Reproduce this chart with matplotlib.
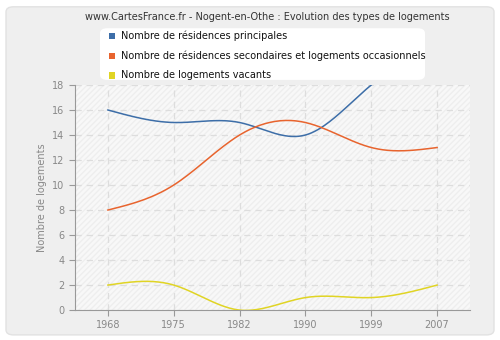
import matplotlib.pyplot as plt
import numpy as np
from matplotlib.patches import FancyBboxPatch

years = ["1968", "1975", "1982", "1990", "1999", "2007"]
principales = [16, 15, 15, 14, 18, 21]
secondaires = [8, 10, 14, 15, 13, 13]
vacants = [2, 2, 0, 1, 1, 2]

labels = [
    "Nombre de résidences principales",
    "Nombre de résidences secondaires et logements occasionnels",
    "Nombre de logements vacants",
]
colors = ["#3d6ea8", "#e8642e", "#e0d424"]


def natural_spline(y, n=200):
    # smooth curve through the points (natural cubic spline on index)
    y = np.asarray(y, dtype=float)
    k = len(y)
    A = np.zeros((k, k))
    b = np.zeros(k)
    A[0, 0] = A[-1, -1] = 1
    for i in range(1, k - 1):
        A[i, i - 1], A[i, i], A[i, i + 1] = 1, 4, 1
        b[i] = 6 * (y[i + 1] - 2 * y[i] + y[i - 1])
    m = np.linalg.solve(A, b)
    xs = np.linspace(0, k - 1, n)
    idx = np.minimum(xs.astype(int), k - 2)
    t = xs - idx
    ys = ((1 - t) * y[idx] + t * y[idx + 1]
          + ((1 - t) ** 3 - (1 - t)) * m[idx] / 6
          + (t ** 3 - t) * m[idx + 1] / 6)
    return xs, ys


fig = plt.figure(figsize=(5, 3.4), dpi=100)
fig.patch.set_facecolor("white")
bg = FancyBboxPatch((0.012, 0.015), 0.976, 0.965, boxstyle="round,pad=0,rounding_size=0.015",
                    transform=fig.transFigure, facecolor="#efefef", edgecolor="#e2e2e2", lw=1,
                    zorder=-10)
fig.patches.append(bg)

ax = fig.add_axes([0.15, 0.088, 0.79, 0.662])
ax.set_facecolor("#f8f8f8")
ax.add_patch(plt.Rectangle((0, 0), 1, 1, transform=ax.transAxes, facecolor="none",
                           hatch="//////", edgecolor="#eeeeee", lw=0, zorder=0))

x = np.arange(len(years))
for vals, c in zip([principales, secondaires, vacants], colors):
    xs, ys = natural_spline(vals)
    ax.plot(xs, ys, color=c, lw=1.1, zorder=3)

ax.set_xlim(-0.5, 5.5)
ax.set_ylim(0, 18)
ax.set_yticks(range(0, 19, 2))
ax.set_xticks(x, years)
ax.grid(True, color="#dddddd", linestyle=(0, (5, 4)), lw=0.9)
ax.set_axisbelow(True)
for s in ["top", "right"]:
    ax.spines[s].set_visible(False)
for s in ["left", "bottom"]:
    ax.spines[s].set_color("#999999")
ax.tick_params(colors="#999999", labelsize=7, length=4, labelcolor="#888888")
ax.set_ylabel("Nombre de logements", color="#888888", fontsize=7)

fig.text(0.535, 0.95, "www.CartesFrance.fr - Nogent-en-Othe : Evolution des types de logements",
         ha="center", va="center", fontsize=7, color="#333333")

leg_box = FancyBboxPatch((0.2, 0.765), 0.65, 0.152, boxstyle="round,pad=0,rounding_size=0.015",
                         transform=fig.transFigure, facecolor="white", edgecolor="none", zorder=-5)
fig.patches.append(leg_box)
for i, (lab, c) in enumerate(zip(labels, colors)):
    yy = 0.895 - i * 0.058
    fig.patches.append(plt.Rectangle((0.218, yy - 0.01), 0.012, 0.018, transform=fig.transFigure,
                                     facecolor=c, edgecolor="none"))
    fig.text(0.242, yy, lab, ha="left", va="center", fontsize=7, color="#111111")

fig.savefig("out.png", dpi=100, facecolor=fig.get_facecolor())
